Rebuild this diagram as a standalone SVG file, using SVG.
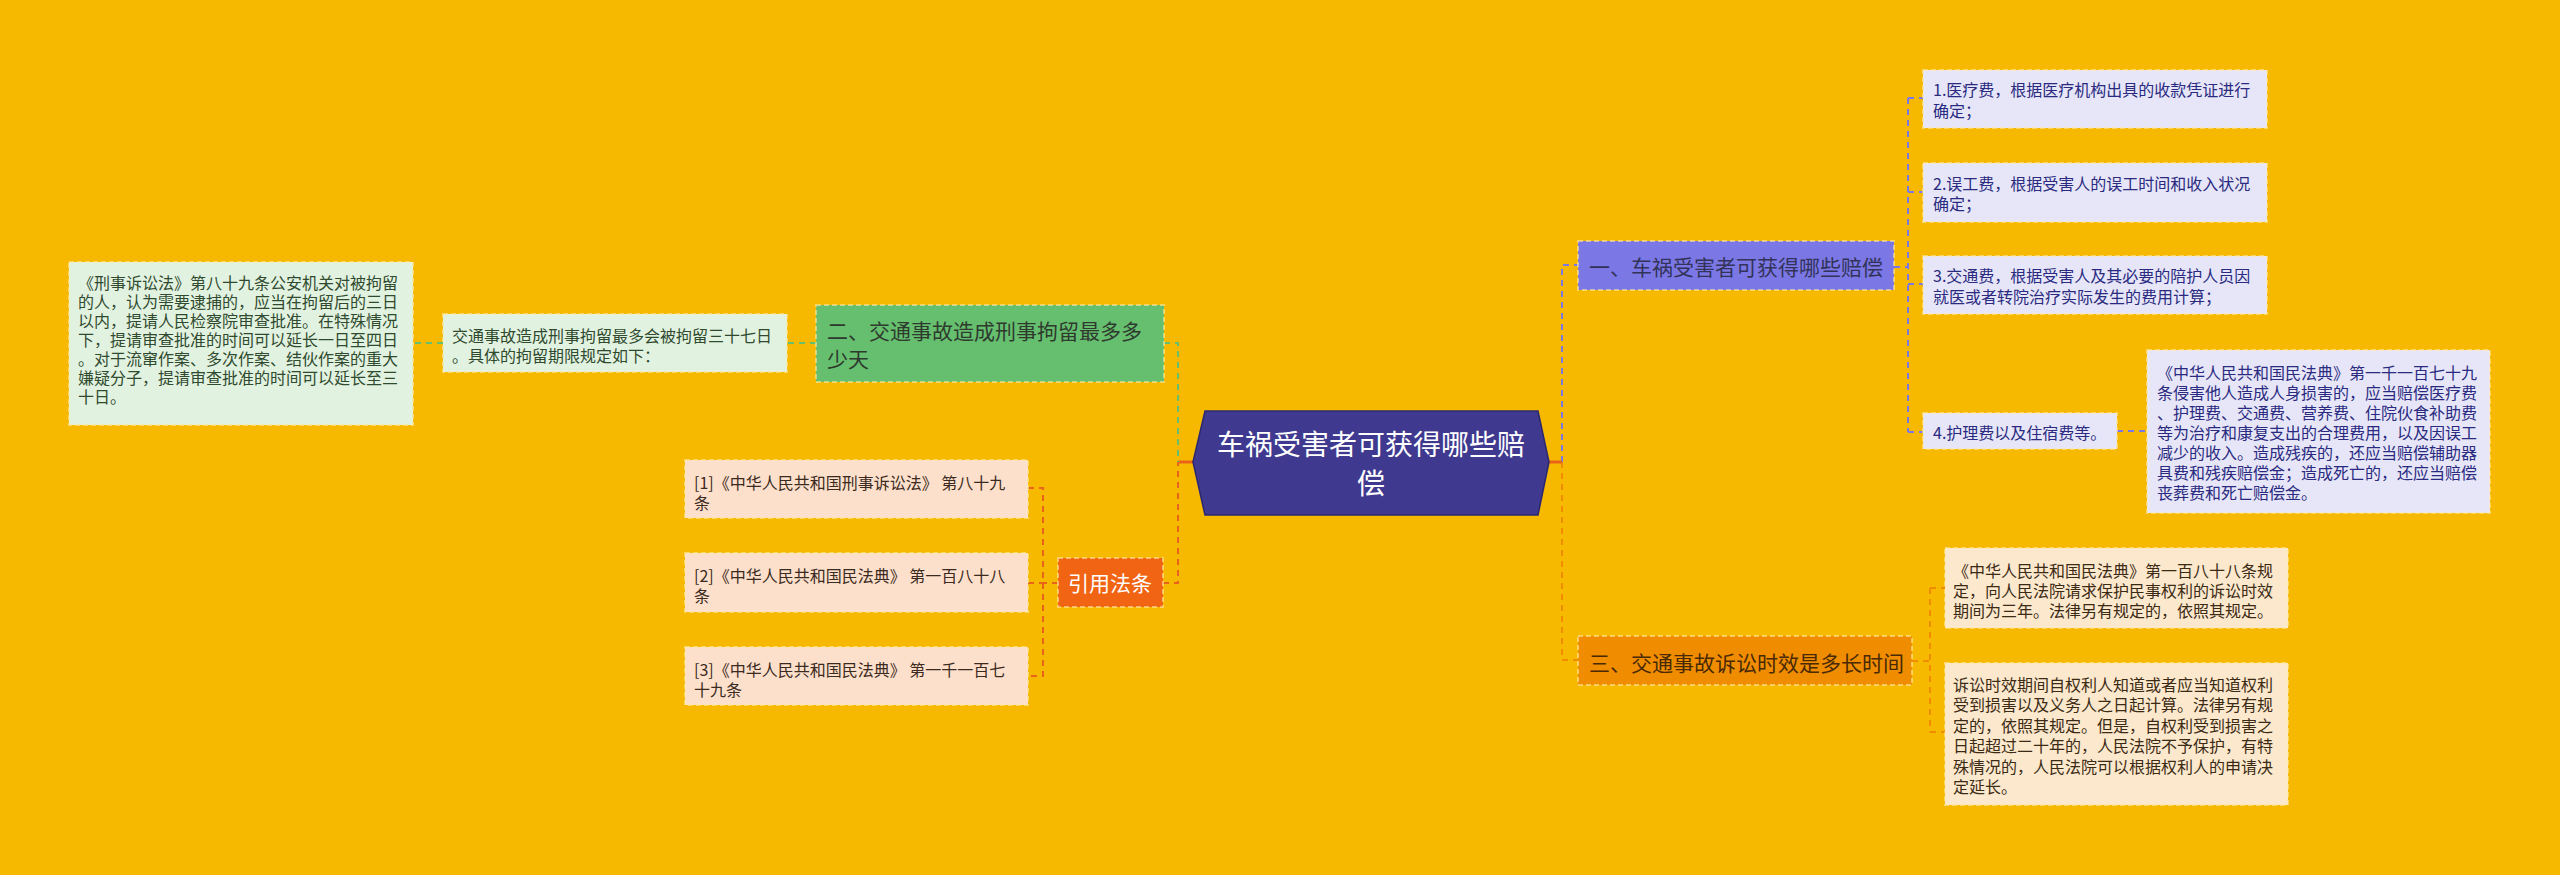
<svg xmlns="http://www.w3.org/2000/svg" width="2560" height="875" viewBox="0 0 2560 875">
<style>
text{font-family:"Noto Sans CJK SC","Liberation Sans",sans-serif;dominant-baseline:central}
.s{font-size:16px}
.m{font-size:21px}
.bd{stroke:#FFE9A0;stroke-opacity:.6;stroke-width:2;stroke-dasharray:5 3}
.c{fill:none;stroke-width:2;stroke-dasharray:6 5}
</style>
<rect width="2560" height="875" fill="#F6B900"/>
<g id="connectors">
<path class="c" stroke="#7B78E6" d="M1562 462V265H1578"/>
<path class="c" stroke="#F08C00" d="M1562 462V660H1578"/>
<path fill="none" stroke="#E8641A" stroke-width="3" d="M1549 462H1562"/>
<path fill="none" stroke="#E8641A" stroke-width="3" d="M1178 462H1193"/>
<path class="c" stroke="#66BF6F" d="M1164 343H1178V462"/>
<path class="c" stroke="#E8641A" d="M1163 583H1178V462"/>
<path class="c" stroke="#E8641A" d="M1058 583H1043M1028 488H1043V676H1028M1028 583H1043"/>
<path class="c" stroke="#66BF6F" d="M816 343H787M443 343H413"/>
<path class="c" stroke="#7B78E6" d="M1894 267H1908M1908 98V432M1908 98H1923M1908 192H1923M1908 284H1923M1908 432H1923M2117 431H2147"/>
<path class="c" stroke="#F08C00" d="M1912 661H1930M1930 588V732M1930 588H1945M1930 732H1945"/>
</g>
<g id="center">
<polygon points="1193,462 1205,411 1538,411 1549,462 1538,515 1205,515" fill="#3F3A8F" stroke="#2C2870" stroke-width="1.5"/>
<text x="1371" y="443" font-size="28" fill="#fff" text-anchor="middle">车祸受害者可获得哪些赔</text>
<text x="1371" y="482" font-size="28" fill="#fff" text-anchor="middle">偿</text>
</g>
<g id="n1">
<rect x="1578" y="241" width="316" height="49" fill="#7B78E6" class="bd"/>
<text x="1589" y="266" class="m" fill="#33335a">一、车祸受害者可获得哪些赔偿</text>
</g>
<g id="n1a">
<rect x="1923" y="70" width="344" height="58" fill="#E6E6F8" class="bd"/>
<text x="1933" y="89" class="s" fill="#2A2A80">1.医疗费，根据医疗机构出具的收款凭证进行</text>
<text x="1933" y="110" class="s" fill="#2A2A80">确定；</text>
</g>
<g id="n1b">
<rect x="1923" y="163" width="344" height="59" fill="#E6E6F8" class="bd"/>
<text x="1933" y="183" class="s" fill="#2A2A80">2.误工费，根据受害人的误工时间和收入状况</text>
<text x="1933" y="203" class="s" fill="#2A2A80">确定；</text>
</g>
<g id="n1c">
<rect x="1923" y="256" width="344" height="58" fill="#E6E6F8" class="bd"/>
<text x="1933" y="275" class="s" fill="#2A2A80">3.交通费，根据受害人及其必要的陪护人员因</text>
<text x="1933" y="296" class="s" fill="#2A2A80">就医或者转院治疗实际发生的费用计算；</text>
</g>
<g id="n1d">
<rect x="1923" y="413" width="194" height="36" fill="#E6E6F8" class="bd"/>
<text x="1933" y="432" class="s" fill="#2A2A80">4.护理费以及住宿费等。</text>
</g>
<g id="n1d1">
<rect x="2147" y="350" width="343" height="163" fill="#E6E6F8" class="bd"/>
<g class="s" fill="#2A2A80">
<text x="2157" y="372">《中华人民共和国民法典》第一千一百七十九</text>
<text x="2157" y="392">条侵害他人造成人身损害的，应当赔偿医疗费</text>
<text x="2157" y="412">、护理费、交通费、营养费、住院伙食补助费</text>
<text x="2157" y="432">等为治疗和康复支出的合理费用，以及因误工</text>
<text x="2157" y="452">减少的收入。造成残疾的，还应当赔偿辅助器</text>
<text x="2157" y="472">具费和残疾赔偿金；造成死亡的，还应当赔偿</text>
<text x="2157" y="492">丧葬费和死亡赔偿金。</text>
</g>
</g>
<g id="n3">
<rect x="1578" y="636" width="334" height="49" fill="#F08C00" class="bd"/>
<text x="1589" y="662" class="m" fill="#4A2A05">三、交通事故诉讼时效是多长时间</text>
</g>
<g id="n3a">
<rect x="1945" y="548" width="343" height="80" fill="#FCE8CC" class="bd"/>
<g class="s" fill="#3B2A14">
<text x="1953" y="570">《中华人民共和国民法典》第一百八十八条规</text>
<text x="1953" y="590">定，向人民法院请求保护民事权利的诉讼时效</text>
<text x="1953" y="610">期间为三年。法律另有规定的，依照其规定。</text>
</g>
</g>
<g id="n3b">
<rect x="1945" y="663" width="343" height="142" fill="#FCE8CC" class="bd"/>
<g class="s" fill="#3B2A14">
<text x="1953" y="684">诉讼时效期间自权利人知道或者应当知道权利</text>
<text x="1953" y="704">受到损害以及义务人之日起计算。法律另有规</text>
<text x="1953" y="725">定的，依照其规定。但是，自权利受到损害之</text>
<text x="1953" y="745">日起超过二十年的，人民法院不予保护，有特</text>
<text x="1953" y="766">殊情况的，人民法院可以根据权利人的申请决</text>
<text x="1953" y="786">定延长。</text>
</g>
</g>
<g id="n2">
<rect x="816" y="305" width="348" height="77" fill="#66BF6F" class="bd"/>
<text x="827" y="330" class="m" fill="#2E3A2E">二、交通事故造成刑事拘留最多多</text>
<text x="827" y="358" class="m" fill="#2E3A2E">少天</text>
</g>
<g id="n2a">
<rect x="443" y="314" width="344" height="58" fill="#E2F2E0" class="bd"/>
<text x="452" y="335" class="s" fill="#2F4A2F">交通事故造成刑事拘留最多会被拘留三十七日</text>
<text x="452" y="355" class="s" fill="#2F4A2F">。具体的拘留期限规定如下：</text>
</g>
<g id="n2a1">
<rect x="69" y="262" width="344" height="163" fill="#E2F2E0" class="bd"/>
<g class="s" fill="#2F4A2F">
<text x="78" y="282">《刑事诉讼法》第八十九条公安机关对被拘留</text>
<text x="78" y="301">的人，认为需要逮捕的，应当在拘留后的三日</text>
<text x="78" y="320">以内，提请人民检察院审查批准。在特殊情况</text>
<text x="78" y="339">下，提请审查批准的时间可以延长一日至四日</text>
<text x="78" y="358">。对于流窜作案、多次作案、结伙作案的重大</text>
<text x="78" y="377">嫌疑分子，提请审查批准的时间可以延长至三</text>
<text x="78" y="396">十日。</text>
</g>
</g>
<g id="ref">
<rect x="1058" y="558" width="105" height="49" fill="#F06414" class="bd"/>
<text x="1110" y="582" class="m" fill="#fff" text-anchor="middle">引用法条</text>
</g>
<g id="ref1">
<rect x="685" y="460" width="343" height="58" fill="#FDE0CC" class="bd"/>
<text x="694" y="482" class="s" fill="#3B2A20">[1]《中华人民共和国刑事诉讼法》 第八十九</text>
<text x="694" y="502" class="s" fill="#3B2A20">条</text>
</g>
<g id="ref2">
<rect x="685" y="553" width="343" height="59" fill="#FDE0CC" class="bd"/>
<text x="694" y="575" class="s" fill="#3B2A20">[2]《中华人民共和国民法典》 第一百八十八</text>
<text x="694" y="595" class="s" fill="#3B2A20">条</text>
</g>
<g id="ref3">
<rect x="685" y="647" width="343" height="58" fill="#FDE0CC" class="bd"/>
<text x="694" y="669" class="s" fill="#3B2A20">[3]《中华人民共和国民法典》 第一千一百七</text>
<text x="694" y="689" class="s" fill="#3B2A20">十九条</text>
</g>
</svg>
